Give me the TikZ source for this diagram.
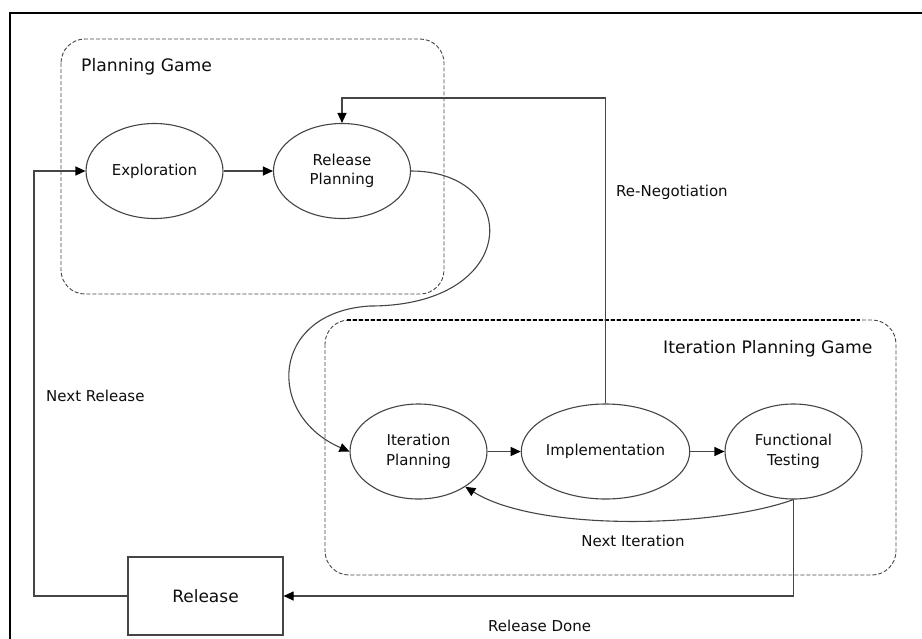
\documentclass[tikz,border=0pt]{standalone}
\usepackage{fontspec}
\setmainfont{DejaVu Sans}
\usetikzlibrary{arrows.meta,shapes.geometric}

\definecolor{ink}{HTML}{0E0E0E}
\definecolor{edge}{HTML}{454545}
\definecolor{dashgray}{HTML}{474747}

\begin{document}
\begin{tikzpicture}[x=1pt,y=-1pt,
  state/.style={ellipse,draw=edge,line width=1.1pt,minimum width=137pt,
    minimum height=95pt,inner sep=0pt,align=center,text=ink,
    font=\fontsize{15}{19.5}\selectfont},
  boxnode/.style={rectangle,draw=edge,line width=1.1pt,minimum width=155pt,
    minimum height=78pt,inner sep=0pt,text=ink,font=\fontsize{17}{20}\selectfont},
  lbl/.style={inner sep=0pt,text=ink,font=\fontsize{15}{18}\selectfont},
  title/.style={inner sep=0pt,text=ink,font=\fontsize{17.2}{20}\selectfont},
  group/.style={draw=dashgray,line width=0.9pt,dash pattern=on 4pt off 2pt,rounded corners=24pt},
  arr/.style={draw=edge,line width=1.1pt,-{Triangle[length=10pt,width=9pt,color=black]}}
]
\useasboundingbox (0,0) rectangle (922,638);
\fill[white] (0,0) rectangle (922,638);

% frame
\draw[black,line width=1.6pt] (10,640) -- (10,13) -- (924,13);

% group boxes
\draw[group] (61,39) rectangle (444,294);
\draw[group] (325,320) rectangle (896,575);
\draw[draw=black,line width=1.1pt,dash pattern=on 4pt off 2pt] (347,320) -- (860,320);

\node[title,anchor=base west] (pgt) at (81,71) {Planning Game};
\node[title,anchor=base west] (ipgt) at (663,353) {Iteration Planning Game};

% states
\node[state] (expl) at (154.5,171) {Exploration};
\node[state] (relp) at (342,171) {Release\\Planning};
\node[state] (itp) at (418.5,451.5) {Iteration\\Planning};
\node[state] (impl) at (605.5,451.5) {Implementation};
\node[state] (ft) at (793.5,451.5) {Functional\\Testing};
\node[boxnode] (rel) at (205.5,596) {Release};

% straight transitions
\draw[arr] (expl) -- (relp);
\draw[arr] (itp) -- (impl);
\draw[arr] (impl) -- (ft);

% re-negotiation loop
\coordinate (rn) at (605.5,98);
\draw[arr] (impl.north) -- (rn) -| (relp.north);
\node[lbl,anchor=base west] (rnl) at (616,196) {Re-Negotiation};

% release planning into the iteration game
\draw[arr] (relp.east) .. controls (522,171) and (522,306) .. (370,306)
  .. controls (270,312) and (265,415) .. (itp.west);

% next iteration
\draw[arr] (ft.south) .. controls (715,528) and (537,532) .. (itp.-37);
\node[lbl,anchor=base] (nil) at (633,546) {Next Iteration};

% release done
\draw[arr] (ft.south) |- (rel.east);
\node[lbl,anchor=base west] (rdl) at (488,631) {Release Done};

% next release
\coordinate (nr) at (34,596);
\draw[arr] (rel.west) -- (nr) |- (expl.west);
\node[lbl,anchor=base west] (nrl) at (46,401) {Next Release};
\end{tikzpicture}
\end{document}
